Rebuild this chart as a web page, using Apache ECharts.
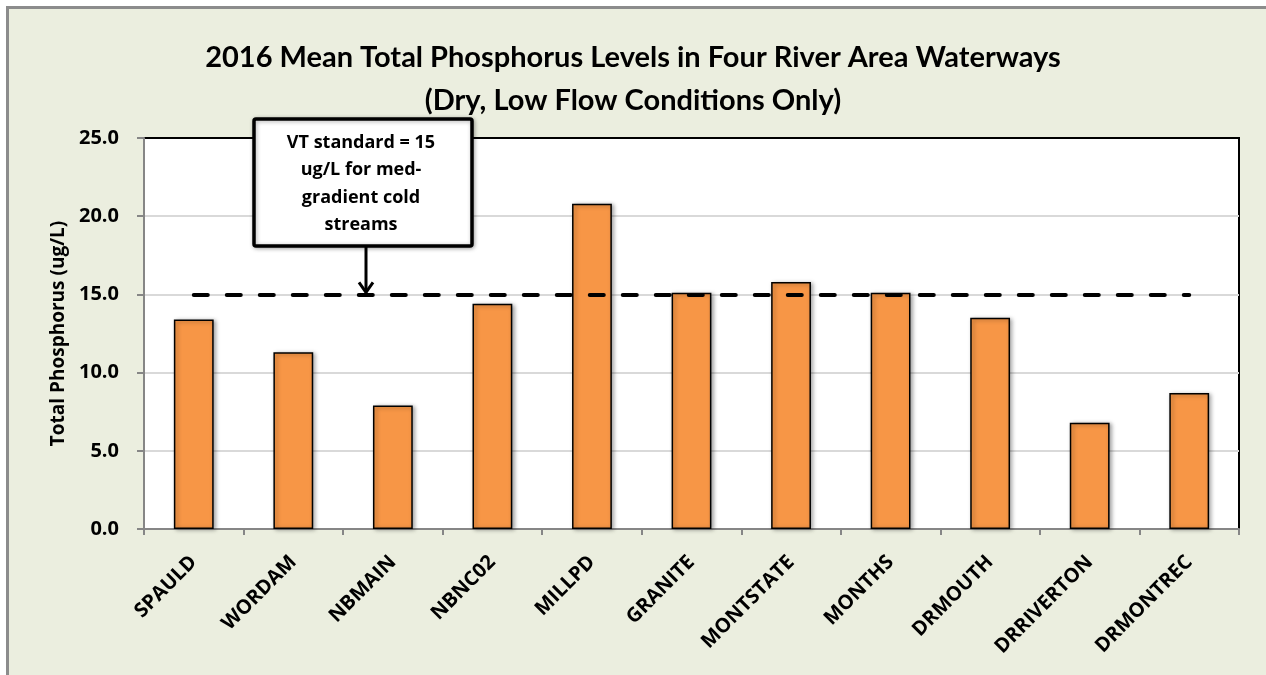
<!DOCTYPE html>
<html>
<head>
<meta charset="utf-8">
<script src="https://cdn.jsdelivr.net/npm/echarts@6/dist/echarts.min.js"></script>
<style>
html,body{margin:0;padding:0;background:#ffffff;}
#chart{width:1266px;height:675px;}
</style>
</head>
<body>
<div id="chart"></div>
<script>
const categories = ['SPAULD','WORDAM','NBMAIN','NBNC02','MILLPD','GRANITE','MONTSTATE','MONTHS','DRMOUTH','DRRIVERTON','DRMONTREC'];
const meanTP = [13.4, 11.3, 7.9, 14.4, 20.8, 15.1, 15.8, 15.1, 13.5, 6.8, 8.7];
const vtStandard = 15;
const yTicks = { min: 0, max: 25, interval: 5 };
const titleLines = ['2016 Mean Total Phosphorus Levels in Four River Area Waterways', '(Dry, Low Flow Conditions Only)'];
const yAxisName = 'Total Phosphorus (ug/L)';
const noteLines = ['VT standard = 15', 'ug/L for med-', 'gradient cold', 'streams'];

const FONT = '"Open Sans", "Liberation Sans", sans-serif';
const TITLE_FONT = 'Lato, "Open Sans", sans-serif';
const chart = echarts.init(document.getElementById('chart'), null, {renderer: 'canvas'});

const frame = { type: 'rect', z: -10, silent: true,
  shape: { x: 7.5, y: 7.5, width: 1300, height: 720 },
  style: { fill: '#EBEEDF', stroke: '#8C8C8C', lineWidth: 3 } };

const nLines = (yTicks.max - yTicks.min) / yTicks.interval + 1;
const splitColors = [];
for (let i = 0; i < nLines; i++) splitColors.push(i === nLines - 1 ? '#000000' : '#D9D9D9');

const option = {
  backgroundColor: '#ffffff',
  animation: false,
  title: {
    text: titleLines.join('\n'),
    left: 'center',
    top: 31,
    textStyle: { fontFamily: TITLE_FONT, fontWeight: 'bold', fontSize: 29, color: '#000', lineHeight: 43 }
  },
  grid: {
    left: 144, right: 27, top: 138, bottom: 146,
    show: true, backgroundColor: '#ffffff', borderColor: '#000000', borderWidth: 2
  },
  xAxis: {
    type: 'category',
    data: categories,
    axisLine: { lineStyle: { color: '#868686', width: 2 } },
    axisTick: { show: true, alignWithLabel: false, length: 6, lineStyle: { color: '#868686', width: 2 } },
    axisLabel: { rotate: 45, margin: 30, interval: 0, fontFamily: FONT, fontWeight: 'bold', fontSize: 20, color: '#000' },
    splitLine: { show: false }
  },
  yAxis: {
    type: 'value',
    min: yTicks.min, max: yTicks.max, interval: yTicks.interval,
    name: yAxisName,
    nameLocation: 'middle',
    nameGap: 76,
    nameTextStyle: { fontFamily: FONT, fontWeight: 'bold', fontSize: 19, color: '#000' },
    axisLine: { show: true, lineStyle: { color: '#868686', width: 2 } },
    axisTick: { show: true, length: 7, lineStyle: { color: '#868686', width: 2 } },
    axisLabel: { margin: 25, fontFamily: FONT, fontWeight: 'bold', fontSize: 20, color: '#000',
      formatter: v => v.toFixed(1) },
    splitLine: { show: true, lineStyle: { color: splitColors, width: 2 } }
  },
  series: [{
    type: 'bar',
    data: meanTP,
    barWidth: '40%',
    itemStyle: { color: '#F79646', borderColor: '#000', borderWidth: 1.5,
      shadowColor: 'rgba(0,0,0,0.35)', shadowBlur: 4, shadowOffsetX: 2, shadowOffsetY: 1 },
    markLine: {
      silent: true,
      symbol: ['none', 'none'],
      label: { show: false },
      lineStyle: { color: '#000', width: 4, type: [14, 19], cap: 'round' },
      data: [[ { coord: [0, vtStandard] }, { coord: [categories.length - 1, vtStandard] } ]]
    }
  }],
  graphic: [frame]
};
chart.setOption(option);

// annotation box with arrow pointing at the standard line
const yStd = chart.convertToPixel({ yAxisIndex: 0 }, vtStandard);
const boxX = 254, boxY = 119, boxW = 218, boxH = 127;
const arrowX = 366;
chart.setOption({
  graphic: [
    frame,
    { type: 'rect', z: 100,
      shape: { x: boxX, y: boxY, width: boxW, height: boxH, r: 2 },
      style: { fill: '#fff', stroke: '#000', lineWidth: 3.5, shadowColor: 'rgba(0,0,0,0.3)', shadowBlur: 4, shadowOffsetX: 1, shadowOffsetY: 1 } },
    { type: 'text', z: 101,
      x: boxX + boxW / 2 - 2, y: boxY + 10,
      style: { text: noteLines.join('\n'), fill: '#000', font: 'bold 18px ' + FONT, align: 'center', verticalAlign: 'top', lineHeight: 27.5 } },
    { type: 'line', z: 101,
      shape: { x1: arrowX, y1: boxY + boxH, x2: arrowX, y2: yStd - 2 },
      style: { stroke: '#000', lineWidth: 3 } },
    { type: 'polyline', z: 101,
      shape: { points: [[arrowX - 7, yStd - 12], [arrowX, yStd - 2], [arrowX + 7, yStd - 12]] },
      style: { stroke: '#000', lineWidth: 3, fill: null } }
  ]
}, { replaceMerge: ['graphic'] });
</script>
</body>
</html>
